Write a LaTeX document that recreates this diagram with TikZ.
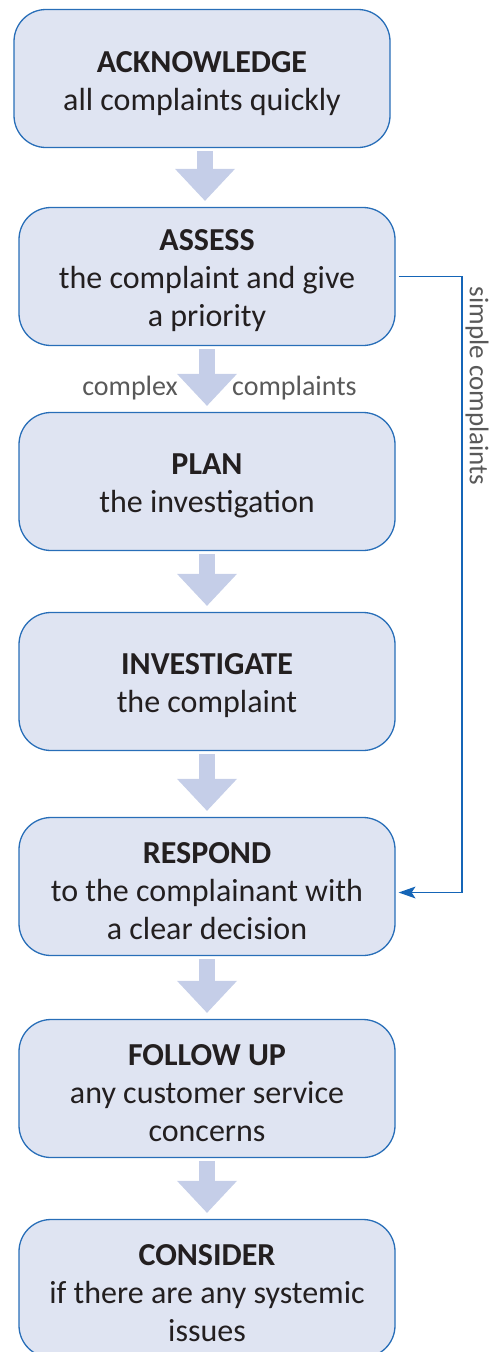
\documentclass[tikz,border=0pt]{standalone}
\usepackage{fontspec}
\setmainfont{Carlito}
\usetikzlibrary{arrows.meta,positioning,calc}

\definecolor{boxfill}{RGB}{223,228,242}
\definecolor{boxline}{RGB}{40,110,184}
\definecolor{bigfill}{RGB}{197,206,232}
\definecolor{ink}{RGB}{35,31,32}
\definecolor{note}{RGB}{89,89,89}
\definecolor{sideline}{RGB}{21,101,183}

\begin{document}
\begin{tikzpicture}[x=1pt,y=-1pt,
  stage/.style={draw=boxline,line width=1.3pt,fill=boxfill,rounded corners=32pt,
    minimum width=376pt,minimum height=138pt,inner sep=0pt,align=center,
    text=ink,font=\fontsize{32}{38}\selectfont},
  down/.style={draw=bigfill,line width=16pt,shorten <=3pt,shorten >=6pt,
    -{Triangle[width=60pt,length=32pt,line width=0pt,fill=bigfill]}},
  note/.style={text=note,font=\fontsize{28}{32}\selectfont,inner sep=0pt},
  side/.style={draw=sideline,line width=1.8pt,
    -{Stealth[width=12pt,length=17pt,inset=4pt,line width=0pt]}}]
\useasboundingbox (0,0) rectangle (502,1352);

\node[stage] (ack) at (202,78.5) {\rule{0pt}{32pt}\textbf{ACKNOWLEDGE}\\all complaints quickly};
\node[stage] (assess) at (207,276.5) {\rule{0pt}{30pt}\textbf{ASSESS}\\the complaint and give\\a priority};
\node[stage] (plan) at (207,481.5) {\rule{0pt}{30pt}\textbf{PLAN}\\the investigation};
\node[stage] (invest) at (207,681.5) {\rule{0pt}{30pt}\textbf{INVESTIGATE}\\the complaint};
\node[stage] (respond) at (207,886.5) {\rule{0pt}{30pt}\textbf{RESPOND}\\to the complainant with\\a clear decision};
\node[stage] (follow) at (207,1088.5) {\rule{0pt}{30pt}\textbf{FOLLOW UP}\\any customer service\\concerns};
\node[stage] (consider) at (207,1288.5) {\rule{0pt}{30pt}\textbf{CONSIDER}\\if there are any systemic\\issues};

% block arrows down the chain
\draw[down] (ack.south -| 205,0) -- (assess.north -| 205,0);
\draw[down] (assess.south) -- (plan.north);
\draw[down] (plan.south) -- (invest.north);
\draw[down] (invest.south) -- (respond.north);
\draw[down] (respond.south) -- (follow.north);
\draw[down] (follow.south) -- (consider.north);

\node[note,anchor=east] (complex) at (178,388) {complex};
\node[note,anchor=west] (complaints) at (232,388) {complaints};

% shortcut for simple complaints
\draw[side] ([xshift=3pt]assess.east) -- ++(63,0) |- ([xshift=3pt,yshift=-6pt]respond.east);
\node[note,rotate=-90,font=\fontsize{27}{32}\selectfont] (simple) at (477,386) {simple complaints};
\end{tikzpicture}
\end{document}
